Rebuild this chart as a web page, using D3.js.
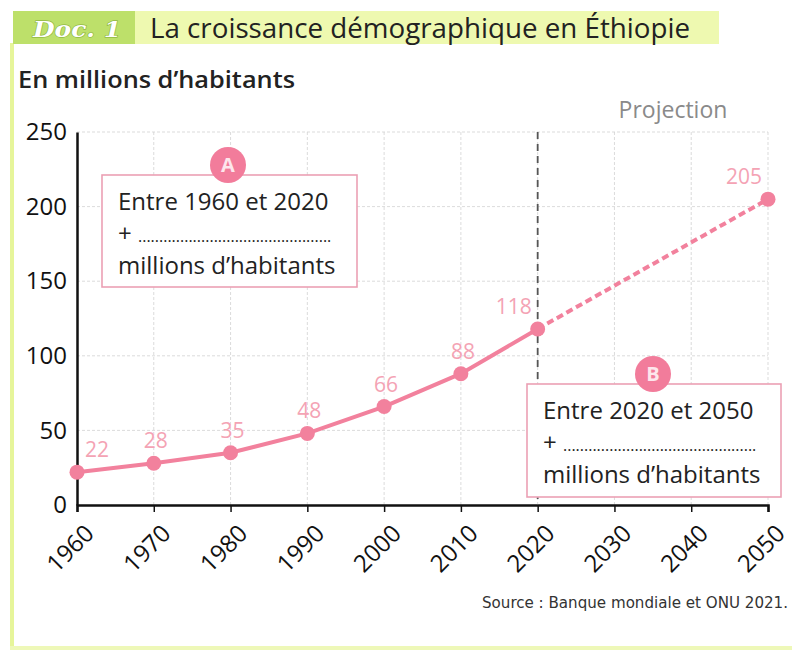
<!DOCTYPE html>
<html>
<head>
<meta charset="utf-8">
<script src="https://cdn.jsdelivr.net/npm/d3@7"></script>
<style>
  body { margin: 0; background: #fff; }
  svg { display: block; font-family: "Open Sans", "Noto Sans", sans-serif; }
</style>
</head>
<body>
<svg id="chart" width="792" height="654"></svg>
<script>
// observed values (millions)
const years = [1960, 1970, 1980, 1990, 2000, 2010, 2020];
const population = [22, 28, 35, 48, 66, 88, 118];
const projYears = [2020, 2050];
const projection = [118, 205];
const xTicks = [1960, 1970, 1980, 1990, 2000, 2010, 2020, 2030, 2040, 2050];
const yTicks = [0, 50, 100, 150, 200, 250];

const pink = '#f2819d';
const pinkText = '#f4a3b4';

const svg = d3.select('#chart');

const x = d3.scaleLinear().domain([1960, 2050]).range([77, 768]);
const y = d3.scaleLinear().domain([0, 250]).range([505, 132]);

// frame
svg.append('rect').attr('x', 10).attr('y', 43).attr('width', 4).attr('height', 607).attr('fill', '#e6f59a');
svg.append('rect').attr('x', 10).attr('y', 646).attr('width', 782).attr('height', 4).attr('fill', '#eef8b8');

// header
svg.append('rect').attr('x', 135).attr('y', 11).attr('width', 584).attr('height', 33).attr('fill', '#eef9b0');
svg.append('rect').attr('x', 13).attr('y', 11).attr('width', 122).attr('height', 33).attr('fill', '#bde06a');
svg.append('text')
  .attr('x', 77).attr('y', 37)
  .attr('text-anchor', 'middle')
  .attr('font-family', 'DejaVu Serif')
  .attr('font-weight', 'bold')
  .attr('font-style', 'italic')
  .attr('font-size', 23)
  .attr('fill', '#fff')
  .attr('stroke', '#93bb45').attr('stroke-width', 1.4)
  .attr('paint-order', 'stroke')
  .attr('textLength', 88)
  .attr('lengthAdjust', 'spacingAndGlyphs')
  .text('Doc. 1');
svg.append('text')
  .attr('x', 150).attr('y', 38)
  .attr('font-size', 28)
  .attr('fill', '#222')
  .attr('textLength', 540)
  .attr('lengthAdjust', 'spacingAndGlyphs')
  .text('La croissance démographique en Éthiopie');

svg.append('text')
  .attr('x', 18).attr('y', 88)
  .attr('font-size', 23)
  .attr('font-weight', 600)
  .attr('fill', '#222')
  .attr('textLength', 277)
  .attr('lengthAdjust', 'spacingAndGlyphs')
  .text('En millions d\u2019habitants');

// grid
const grid = svg.append('g').attr('stroke', '#d2d2d2').attr('stroke-width', 0.8).attr('stroke-dasharray', '3,2');
grid.selectAll('.vg').data(xTicks.slice(1)).enter().append('line')
  .attr('x1', d => x(d)).attr('x2', d => x(d))
  .attr('y1', y(250)).attr('y2', y(0));
grid.selectAll('.hg').data(yTicks.slice(1)).enter().append('line')
  .attr('x1', x(1960)).attr('x2', x(2050))
  .attr('y1', d => y(d)).attr('y2', d => y(d));

// axes
const xAxis = svg.append('g')
  .attr('transform', 'translate(0,' + y(0) + ')')
  .call(d3.axisBottom(x).tickValues(xTicks).tickFormat(d3.format('d')).tickSize(7));
xAxis.select('.domain').attr('stroke', '#111').attr('stroke-width', 2.5);
xAxis.selectAll('.tick line').attr('stroke', '#111').attr('stroke-width', 1.5);
xAxis.selectAll('.tick text')
  .attr('font-size', 24)
  .attr('fill', '#111')
  .attr('font-family', '"Open Sans", sans-serif')
  .attr('text-anchor', 'end')
  .attr('x', 0).attr('y', 0).attr('dy', 0)
  .attr('transform', 'translate(18,30) rotate(-45)');

const yAxis = svg.append('g')
  .attr('transform', 'translate(' + x(1960) + ',0)')
  .call(d3.axisLeft(y).tickValues(yTicks).tickSize(0).tickPadding(10));
yAxis.select('.domain').attr('stroke', '#111').attr('stroke-width', 2.5);
yAxis.selectAll('.tick text')
  .attr('font-size', 24)
  .attr('fill', '#111')
  .attr('font-family', '"Open Sans", sans-serif');

// 2020 separator
svg.append('line')
  .attr('x1', x(2020)).attr('x2', x(2020))
  .attr('y1', y(250)).attr('y2', y(0))
  .attr('stroke', '#555').attr('stroke-width', 1.8).attr('stroke-dasharray', '7,5');

svg.append('text')
  .attr('x', 673).attr('y', 118)
  .attr('text-anchor', 'middle')
  .attr('font-size', 23)
  .attr('fill', '#8a8a8a')
  .text('Projection');

// lines
const line = d3.line().x(d => x(d[0])).y(d => y(d[1]));
const obs = years.map((yr, i) => [yr, population[i]]);
const proj = projYears.map((yr, i) => [yr, projection[i]]);

svg.append('path').datum(proj)
  .attr('d', line).attr('fill', 'none')
  .attr('stroke', pink).attr('stroke-width', 4).attr('stroke-dasharray', '7,4');
svg.append('path').datum(obs)
  .attr('d', line).attr('fill', 'none')
  .attr('stroke', pink).attr('stroke-width', 4);

const pts = obs.concat([proj[1]]);
svg.selectAll('.pt').data(pts).enter().append('circle')
  .attr('cx', d => x(d[0])).attr('cy', d => y(d[1])).attr('r', 7.5)
  .attr('fill', pink);

svg.selectAll('.lbl').data(pts).enter().append('text')
  .attr('x', d => d[0] === 1960 ? x(d[0]) + 8 : (d[0] >= 2020 ? x(d[0]) - 6 : x(d[0]) + 2))
  .attr('y', d => y(d[1]) - 15)
  .attr('text-anchor', d => d[0] === 1960 ? 'start' : (d[0] >= 2020 ? 'end' : 'middle'))
  .attr('font-size', 21)
  .attr('fill', pinkText)
  .text(d => d[1]);

// annotation boxes
function callout(bx, by, bw, bh, letter, cx, lines) {
  const g = svg.append('g');
  g.append('rect').attr('x', bx).attr('y', by).attr('width', bw).attr('height', bh)
    .attr('fill', '#fff').attr('stroke', '#eba0b4').attr('stroke-width', 1.6);
  g.append('circle').attr('cx', cx).attr('cy', by - 10).attr('r', 18).attr('fill', '#f27c9b');
  g.append('text').attr('x', cx).attr('y', by - 3).attr('text-anchor', 'middle')
    .attr('font-size', 20).attr('font-weight', 'bold').attr('fill', '#fde6ec').text(letter);
  lines.forEach((t, i) => {
    const tx = g.append('text').attr('x', bx + 16).attr('y', by + 35 + i * 32)
      .attr('font-size', 24).attr('fill', '#222');
    if (t === '+') {
      tx.append('tspan').text('+ ');
      tx.append('tspan').attr('font-size', 16).text('.'.repeat(46));
    } else {
      tx.text(t);
    }
  });
}
callout(102, 175, 255, 112, 'A', 228, ['Entre 1960 et 2020', '+', 'millions d\u2019habitants']);
callout(527, 384, 254, 113, 'B', 653, ['Entre 2020 et 2050', '+', 'millions d\u2019habitants']);

svg.append('text')
  .attr('x', 788).attr('y', 608)
  .attr('text-anchor', 'end')
  .attr('font-family', '"DejaVu Sans Condensed", "DejaVu Sans", sans-serif')
  .attr('font-stretch', 'condensed')
  .attr('font-size', 15)
  .attr('fill', '#333')
  .attr('textLength', 306)
  .attr('lengthAdjust', 'spacingAndGlyphs')
  .text('Source : Banque mondiale et ONU 2021.');
</script>
</body>
</html>
